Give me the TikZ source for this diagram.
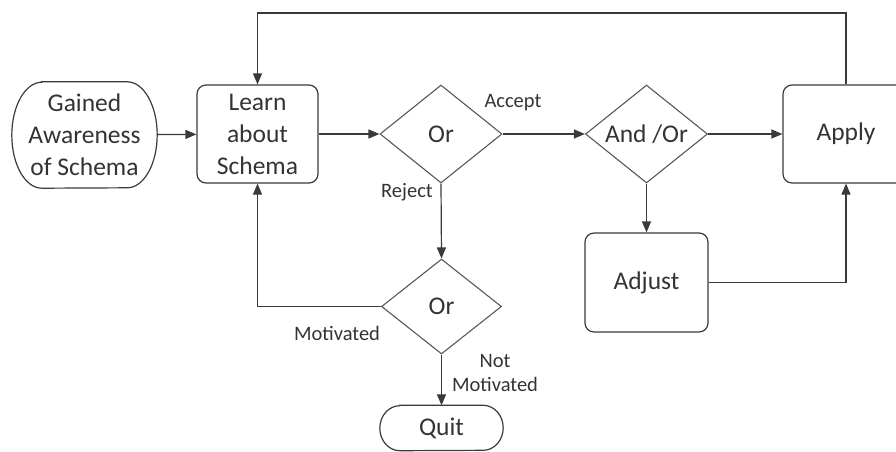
\documentclass[tikz,border=0pt]{standalone}
\usepackage{fontspec}
\setmainfont{Carlito}
\usetikzlibrary{arrows.meta,shapes.geometric,calc}
\definecolor{ink}{HTML}{333333}
\definecolor{edge}{HTML}{3A3A3A}
\definecolor{dia}{HTML}{585858}

\begin{document}
\begin{tikzpicture}[x=1pt,y=-1pt,
  every node/.style={text=ink,font=\fontsize{25.5}{32}\selectfont,align=center,inner sep=0pt},
  box/.style={draw=edge,line width=1.2pt,rounded corners=9pt,minimum width=121pt,minimum height=98pt},
  decision/.style={diamond,draw=dia,line width=1.1pt,aspect=1.25,minimum width=122pt,minimum height=98pt},
  lbl/.style={font=\fontsize{20.5}{24}\selectfont},
  outline/.style={draw=edge,line width=1.2pt},
  flow/.style={draw=edge,line width=1.2pt,-{Triangle[length=11pt,width=9pt]}}]
\useasboundingbox (0,0) rectangle (896,451);

% nodes
\node[minimum width=145pt,minimum height=106pt] (gained) at (84.5,135) {Gained\\Awareness\\of Schema};
\node[box] (learn) at (257.5,134) {Learn\\about\\Schema};
\node[decision] (or1) at (441,134) {Or};
\node[decision] (andor) at (646.5,134) {And /Or};
\node[box,minimum width=126pt] (apply) at (846,134) {Apply};
\node[box,minimum width=123pt,minimum height=99pt] (adjust) at (646.5,282.5) {Adjust};
\node[decision,minimum width=120pt,minimum height=95pt] (or2) at (441.5,306.5) {Or};
\node[minimum width=123pt,minimum height=45pt] (quit) at (441.5,428) {Quit};

% terminator outlines with elliptic ends
\draw[outline] ($(gained.north west)+(30pt,0)$) -- ($(gained.north east)+(-30pt,0)$)
  arc[start angle=90,end angle=-90,x radius=30pt,y radius=53pt]
  -- ($(gained.south west)+(30pt,0)$)
  arc[start angle=270,end angle=90,x radius=30pt,y radius=53pt] -- cycle;
\draw[outline] ($(quit.north west)+(20pt,0)$) -- ($(quit.north east)+(-20pt,0)$)
  arc[start angle=90,end angle=-90,x radius=20pt,y radius=22.5pt]
  -- ($(quit.south west)+(20pt,0)$)
  arc[start angle=270,end angle=90,x radius=20pt,y radius=22.5pt] -- cycle;

% branch labels
\node[lbl] (accept) at (513,103) {Accept};
\node[lbl] (reject) at (407,192) {Reject};
\node[lbl] (motiv) at (337,333) {Motivated};
\node[lbl] (notmotiv) at (495,373) {Not\\Motivated};

% connectors
\coordinate (ceil) at (0,13);
\draw[flow] (gained) -- (learn);
\draw[flow] (learn) -- (or1);
\draw[flow] (or1) -- (andor);
\draw[flow] (andor) -- (apply);
\draw[flow] (andor) -- (adjust);
\draw[flow] (adjust.east) -| (apply.south);
\draw[flow] (apply.north) -- (apply.north |- ceil) -| (learn.north);
\draw[flow] (or1.south) -- (or2.north);
\draw[flow] (or2.west) -| (learn.south);
\draw[flow] (or2.south) -- (quit.north);
\end{tikzpicture}
\end{document}
